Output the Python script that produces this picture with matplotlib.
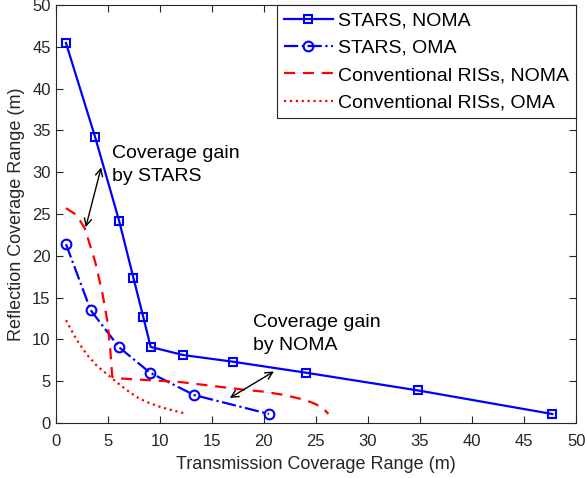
import numpy as np
import matplotlib
matplotlib.use("Agg")
import matplotlib.pyplot as plt

plt.rcParams['font.family'] = ['Liberation Sans', 'DejaVu Sans']

# STARS, NOMA
stars_noma_x = [1.0, 3.8, 6.1, 7.47, 8.43, 9.13, 12.27, 17.06, 24.04, 34.8, 47.7]
stars_noma_y = [45.45, 34.2, 24.2, 17.4, 12.65, 9.1, 8.13, 7.33, 6.02, 3.9, 1.08]

# STARS, OMA
stars_oma_x = [1.0, 3.37, 6.1, 9.07, 13.3, 20.5]
stars_oma_y = [21.4, 13.5, 9.06, 6.02, 3.35, 1.08]

# Conventional RISs, NOMA
ris_noma_x = [1.0, 2.0, 2.8, 3.8, 4.5, 5.0, 5.25, 5.45, 6.0, 8.0, 10.0, 12.0, 14.0, 16.0, 18.0, 20.0, 22.0, 24.0, 25.0, 25.8, 26.2]
ris_noma_y = [25.7, 24.9, 23.3, 19.3, 15.5, 12.0, 8.8, 5.5, 5.35, 5.2, 5.05, 4.9, 4.6, 4.3, 4.0, 3.75, 3.35, 2.75, 2.25, 1.6, 1.1]

# Conventional RISs, OMA
ris_oma_x = [1.0, 2.0, 3.0, 4.0, 5.0, 6.0, 7.0, 8.0, 9.0, 10.0, 11.0, 12.4]
ris_oma_y = [12.3, 10.0, 8.2, 6.8, 5.8, 4.75, 3.8, 2.95, 2.4, 1.95, 1.6, 1.15]

fig = plt.figure(figsize=(5.85, 4.78), dpi=100)
ax = fig.add_axes([0.095, 0.115, 0.89, 0.8745])

ax.plot(stars_noma_x, stars_noma_y, '-', color='blue', lw=1.6, marker='s',
        ms=6, mfc='none', mec='blue', mew=1.5, label='STARS, NOMA')
ax.plot(stars_oma_x, stars_oma_y, '-.', color='blue', lw=1.6, marker='o',
        ms=7, mfc='none', mec='blue', mew=1.5, label='STARS, OMA')
ax.plot(ris_noma_x, ris_noma_y, '--', color='red', lw=1.6, dashes=(5, 3.5),
        label='Conventional RISs, NOMA')
ax.plot(ris_oma_x, ris_oma_y, ':', color='red', lw=1.6,
        label='Conventional RISs, OMA')

# annotations
ax.annotate('', xy=(4.45, 30.9), xytext=(2.83, 23.1),
            arrowprops=dict(arrowstyle='<->', color='black', lw=1.0, mutation_scale=13))
ax.text(5.45, 30.9, 'Coverage gain\nby STARS', fontsize=14, va='center', ha='left',
        linespacing=1.45)
ax.annotate('', xy=(21.2, 6.34), xytext=(16.5, 2.83),
            arrowprops=dict(arrowstyle='<->', color='black', lw=1.0, mutation_scale=13))
ax.text(19.0, 10.65, 'Coverage gain\nby NOMA', fontsize=14, va='center', ha='left',
        linespacing=1.45)

ax.set_xlim(0, 50)
ax.set_ylim(0, 50)
ax.set_xticks(np.arange(0, 51, 5))
ax.set_yticks(np.arange(0, 51, 5))
ax.tick_params(direction='in', top=True, right=True, labelsize=12,
               colors='#262626', length=5)
ax.tick_params(axis='x', pad=8)
for s in ax.spines.values():
    s.set_color('#262626')
ax.set_xlabel('Transmission Coverage Range (m)', fontsize=13, color='#262626', labelpad=5)
ax.set_ylabel('Reflection Coverage Range (m)', fontsize=13, color='#262626', labelpad=5)

leg = ax.legend(loc='upper right', borderaxespad=0, fontsize=14, handlelength=2.5,
                handletextpad=0.3, labelspacing=0.5, fancybox=False,
                edgecolor='#262626', framealpha=1, borderpad=0.35)
leg.get_frame().set_linewidth(0.8)

fig.savefig('out.png', dpi=100)
